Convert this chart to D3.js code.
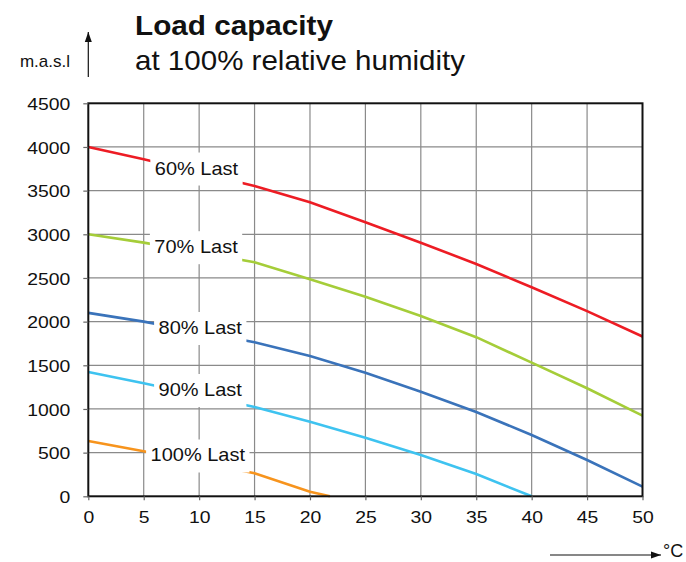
<!DOCTYPE html>
<html>
<head>
<meta charset="utf-8">
<script src="https://cdn.jsdelivr.net/npm/d3@7"></script>
<style>
  html, body { margin: 0; padding: 0; background: #fff; }
  svg { display: block; }
  text { font-family: "Liberation Sans", Arial, Helvetica, sans-serif; fill: #111; }
</style>
</head>
<body>
<svg id="chart" width="686" height="562"></svg>
<script>
// ---- data ----
const seriesNames = ["60% Last", "70% Last", "80% Last", "90% Last", "100% Last"];
const temp60 = [0, 5, 15, 20, 25, 30, 35, 40, 45, 50];
const alt60  = [4000, 3860, 3553, 3366, 3137, 2904, 2660, 2393, 2120, 1830];
const temp70 = [0, 5, 15, 20, 25, 30, 35, 40, 45, 50];
const alt70  = [3000, 2905, 2680, 2485, 2286, 2065, 1822, 1530, 1237, 923];
const temp80 = [0, 5, 15, 20, 25, 30, 35, 40, 45, 50];
const alt80  = [2100, 2000, 1765, 1607, 1415, 1198, 965, 702, 416, 110];
const temp90 = [0, 5, 15, 20, 25, 30, 35, 40];
const alt90  = [1423, 1295, 1022, 854, 671, 473, 255, 0];
const temp100 = [0, 5, 15, 20, 21.8];
const alt100  = [633, 515, 265, 53, 0];
const labelTemp = [9.76, 9.72, 10.1, 10.1, 9.88];
const labelAlt  = [3759, 2858, 1933, 1223, 473];
const xTicks = [0, 5, 10, 15, 20, 25, 30, 35, 40, 45, 50];
const yTicks = [0, 500, 1000, 1500, 2000, 2500, 3000, 3500, 4000, 4500];
const titleText = "Load capacity";
const subtitleText = "at 100% relative humidity";
const yUnit = "m.a.s.l";
const xUnit = "°C";

const colors = ["#ED1C24", "#A5CD39", "#3A73BA", "#3EC3F0", "#F7941D"];
const seriesX = [temp60, temp70, temp80, temp90, temp100];
const seriesY = [alt60, alt70, alt80, alt90, alt100];

// ---- layout ----
const svg = d3.select("#chart");
const x = d3.scaleLinear().domain([0, 50]).range([88.3, 642.5]);
const y = d3.scaleLinear().domain([0, 4500]).range([496.3, 103.3]);

function stretch(sel, k) {
  sel.each(function() {
    const len = this.getComputedTextLength();
    d3.select(this).attr("textLength", len * k).attr("lengthAdjust", "spacingAndGlyphs");
  });
}

// grid
const grid = svg.append("g");
grid.selectAll("line.v").data(xTicks.slice(1, -1)).join("line")
  .attr("x1", d => x(d)).attr("x2", d => x(d))
  .attr("y1", y(0)).attr("y2", y(4500))
  .attr("stroke", "#8a8a8a").attr("stroke-width", 1.2);
grid.selectAll("line.h").data(yTicks.slice(1, -1)).join("line")
  .attr("y1", d => y(d)).attr("y2", d => y(d))
  .attr("x1", x(0)).attr("x2", x(50))
  .attr("stroke", "#8a8a8a").attr("stroke-width", 1.2);

// curves
const line = d3.line().x(d => x(d[0])).y(d => y(d[1]));
seriesX.forEach((xs, i) => {
  const pts = xs.map((t, j) => [t, seriesY[i][j]]);
  svg.append("path").datum(pts)
    .attr("d", line)
    .attr("fill", "none")
    .attr("stroke", colors[i])
    .attr("stroke-width", 2.6);
});

// labels with white boxes
const labG = svg.append("g");
seriesNames.forEach((name, i) => {
  const g = labG.append("g");
  const rect = g.append("rect").attr("fill", "#fff");
  const t = g.append("text")
    .attr("x", x(labelTemp[i])).attr("y", y(labelAlt[i]))
    .attr("text-anchor", "middle").attr("dominant-baseline", "central")
    .style("font-size", "18.5px").text(name);
  stretch(t, 1.08);
  const bb = t.node().getBBox();
  const cx = x(labelTemp[i]), cy = y(labelAlt[i]);
  const w = bb.width + 9, h = 33;
  rect.attr("x", cx - w / 2).attr("y", cy - h / 2 + 1).attr("width", w).attr("height", h);
});

// frame
svg.append("rect")
  .attr("x", x(0)).attr("y", y(4500))
  .attr("width", x(50) - x(0)).attr("height", y(0) - y(4500))
  .attr("fill", "none").attr("stroke", "#111").attr("stroke-width", 2);

// axes
const xAxis = svg.append("g").attr("transform", `translate(0,${y(0)})`)
  .call(d3.axisBottom(x).tickValues(xTicks).tickSize(4).tickPadding(10).tickFormat(d3.format("d")));
const yAxis = svg.append("g").attr("transform", `translate(${x(0)},0)`)
  .call(d3.axisLeft(y).tickValues(yTicks).tickSize(5).tickPadding(13).tickFormat(d3.format("d")));
[xAxis, yAxis].forEach(a => {
  a.select(".domain").remove();
  a.selectAll(".tick line").attr("stroke", "#666").attr("stroke-width", 1.2);
  a.selectAll(".tick text").style("font-size", "17.3px").attr("fill", "#111")
    .style("font-family", '"Liberation Sans", Arial, sans-serif');
});
xAxis.selectAll(".tick text").attr("dy", "0.71em");
yAxis.selectAll(".tick text").attr("dy", "0.36em");
stretch(xAxis.selectAll(".tick text"), 1.12);
stretch(yAxis.selectAll(".tick text"), 1.12);

// arrows
const defs = svg.append("defs");
defs.append("marker").attr("id", "arr").attr("viewBox", "0 0 10 10")
  .attr("refX", 10).attr("refY", 5).attr("markerWidth", 10).attr("markerHeight", 10)
  .attr("markerUnits", "userSpaceOnUse").attr("orient", "auto")
  .append("path").attr("d", "M0,1.5 L10,5 L0,8.5 Z").attr("fill", "#111");

svg.append("line").attr("x1", x(0)).attr("x2", x(0)).attr("y1", 77).attr("y2", 32)
  .attr("stroke", "#111").attr("stroke-width", 1.2).attr("marker-end", "url(#arr)");
svg.append("line").attr("x1", 550).attr("x2", 661).attr("y1", 555).attr("y2", 555)
  .attr("stroke", "#111").attr("stroke-width", 1.2).attr("marker-end", "url(#arr)");

// texts
svg.append("text").attr("x", 70).attr("y", 66.5).attr("text-anchor", "end")
  .style("font-size", "17px").text(yUnit);
svg.append("text").attr("x", 663).attr("y", 557)
  .style("font-size", "18px").text(xUnit);
const tt = svg.append("text").attr("x", 135).attr("y", 35)
  .style("font-size", "28px").style("font-weight", "bold").text(titleText);
stretch(tt, 1.06);
const st = svg.append("text").attr("x", 135).attr("y", 70)
  .style("font-size", "28px").text(subtitleText);
stretch(st, 1.055);
</script>
</body>
</html>
